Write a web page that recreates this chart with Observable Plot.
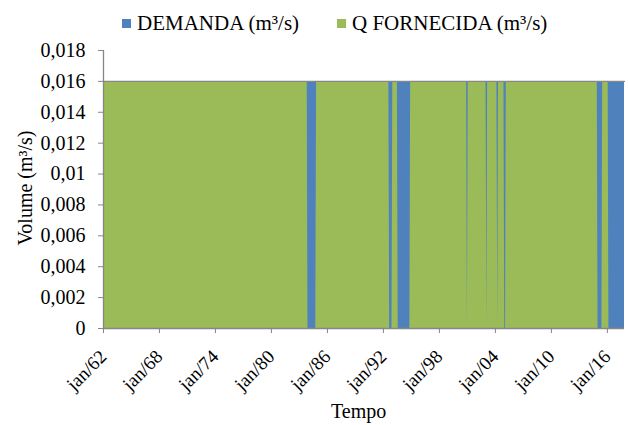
<!DOCTYPE html>
<html><head><meta charset="utf-8">
<script src="https://cdn.jsdelivr.net/npm/d3@7"></script>
<script src="https://cdn.jsdelivr.net/npm/@observablehq/plot@0.6"></script>
</head><body style="margin:0;background:#fff;">
<div id="wrap" style="position:relative;width:628px;height:425px;overflow:hidden;color:#000;font-family:'Liberation Serif'"></div>
<script>
// ---- data ----
const startMonth = "1962-01";
const endMonth = "2017-11";
const demandValue = 0.016;            // DEMANDA (m³/s), constant
// periods where Q FORNECIDA fell below the demand
const deficitStart = ["1983-12","1992-09","1993-08","2001-01","2003-02","2004-04","2005-01","2015-01","2016-03"];
const deficitEnd   = ["1984-10","1992-12","1994-11","2001-01","2003-02","2004-04","2005-02","2015-06","2017-11"];
const deficitValue = [0,0,0,0,0,0,0,0,0];
const yTicks = [0,0.002,0.004,0.006,0.008,0.01,0.012,0.014,0.016,0.018];
const xTickYears = [1962,1968,1974,1980,1986,1992,1998,2004,2010,2016];
const seriesNames = ["DEMANDA (m³/s)","Q FORNECIDA (m³/s)"];
const seriesColors = ["#4F81BD","#9BBB59"];

// ---- build monthly table ----
const parseM = d3.utcParse("%Y-%m");
const months = d3.utcMonth.range(parseM(startMonth), d3.utcMonth.offset(parseM(endMonth),1));
const periods = deficitStart.map((s,i)=>({s:parseM(s), e:parseM(deficitEnd[i]), v:deficitValue[i]}));
const rows = months.map(date=>{
  const p = periods.find(p=>date>=p.s && date<=p.e);
  return {date, demanda: demandValue, q: p ? p.v : demandValue};
});
const fmtY = d => d===0 ? "0" : d3.format(".3~f")(d).replace(".",",");
const yy = d3.utcFormat("%y");
const xTicks = xTickYears.map(y=>new Date(Date.UTC(y,0,1)));
const gray = "#868686";
const serif = "Liberation Serif";

const chart = Plot.plot({
  width: 628, height: 425,
  marginLeft: 103, marginRight: 4, marginTop: 50, marginBottom: 97,
  style: {fontSize: "20px", background: "white", color: "black"},
  x: {type: "utc", domain: [months[0], months[months.length-1]]},
  y: {domain: [0, 0.018]},
  marks: [
    Plot.areaY(rows, {x: "date", y: "demanda", fill: seriesColors[0]}),
    Plot.areaY(rows, {x: "date", y: "q", fill: seriesColors[1]}),
    Plot.lineY(rows, {x: "date", y: "demanda", stroke: gray, strokeWidth: 1.2}),
    Plot.ruleX([months[0]], {stroke: gray, strokeWidth: 1.3}),
    Plot.ruleY([0], {stroke: gray, strokeWidth: 1.3}),
    Plot.axisY({ticks: yTicks, tickFormat: fmtY, tickSize: 5, tickPadding: 13, stroke: gray, fill: "black", label: null, fontSize: 20, fontFamily: serif}),
    Plot.axisX({ticks: xTicks, tickFormat: d => "jan/" + yy(d), tickSize: 5, tickPadding: 20, tickRotate: -45, stroke: gray, fill: "black", label: null, fontSize: 19, fontFamily: serif})
  ]
});
chart.setAttribute("font-family", serif);
chart.querySelectorAll("text, g").forEach(t => t.setAttribute("font-family", serif));

const wrap = document.getElementById("wrap");
wrap.appendChild(chart);

function addText(txt, size, css) {
  const d = document.createElement("div");
  d.setAttribute("style", `position:absolute;white-space:nowrap;font-size:${size}px;line-height:${size}px;font-family:'Liberation Serif';` + css);
  d.textContent = txt;
  wrap.appendChild(d);
  return d;
}
// legend
const legPos = [122, 337];
seriesNames.forEach((n,i)=>{
  const sw = document.createElement("div");
  sw.setAttribute("style", `position:absolute;left:${legPos[i]}px;top:19px;width:9px;height:9px;background:${seriesColors[i]}`);
  wrap.appendChild(sw);
  addText(n, 21, `left:${legPos[i]+15}px;top:13px;`);
});
// axis titles
addText("Tempo", 20, "left:331px;top:401px;");
addText("Volume (m³/s)", 20, "left:25px;top:188px;transform:translate(-50%,-50%) rotate(-90deg);");
</script>
</body></html>
